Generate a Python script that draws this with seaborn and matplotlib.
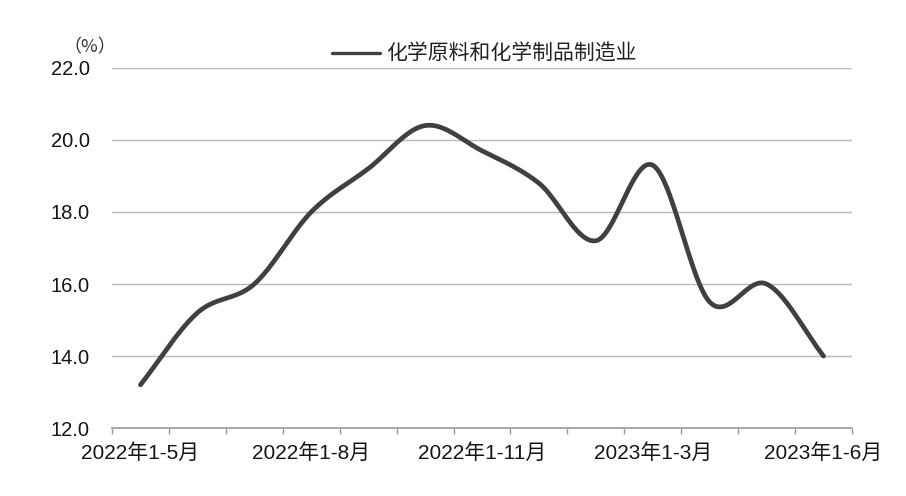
import seaborn as sns
import matplotlib.pyplot as plt
import pandas as pd
import numpy as np
from matplotlib.lines import Line2D
from matplotlib.ticker import FixedLocator

# Data (cumulative growth, %)
periods = [
    "2022年1-5月", "2022年1-6月", "2022年1-7月", "2022年1-8月",
    "2022年1-9月", "2022年1-10月", "2022年1-11月", "2022年1-12月",
    "2023年1-2月", "2023年1-3月", "2023年1-4月", "2023年1-5月",
    "2023年1-6月",
]
values = [13.2, 15.2, 16.0, 18.0, 19.2, 20.4, 19.7, 18.8, 17.2, 19.3, 15.5, 16.0, 14.0]
series_name = "化学原料和化学制品制造业"
shown_labels = ["2022年1-5月", "2022年1-8月", "2022年1-11月", "2023年1-3月", "2023年1-6月"]
y_ticks = [12.0, 14.0, 16.0, 18.0, 20.0, 22.0]


def smooth(x, y, n=24):
    # Catmull-Rom smoothing, like a spreadsheet "smoothed line"
    pts = np.column_stack([x, y]).astype(float)
    p = np.vstack([2 * pts[0] - pts[1], pts, 2 * pts[-1] - pts[-2]])
    t = np.linspace(0, 1, n, endpoint=False)[:, None]
    out = []
    for i in range(1, len(p) - 2):
        p0, p1, p2, p3 = p[i - 1], p[i], p[i + 1], p[i + 2]
        seg = 0.5 * (2 * p1 + (-p0 + p2) * t
                     + (2 * p0 - 5 * p1 + 4 * p2 - p3) * t ** 2
                     + (-p0 + 3 * p1 - 3 * p2 + p3) * t ** 3)
        out.append(seg)
    out.append(pts[-1:])
    return np.vstack(out)


sns.set_theme(style="white")
plt.rcParams["font.family"] = ["Liberation Sans", "Noto Sans CJK SC", "DejaVu Sans"]

xs = np.arange(len(periods))
curve = smooth(xs, values)
df = pd.DataFrame({"x": curve[:, 0], "y": curve[:, 1]})

fig = plt.figure(figsize=(9.06, 4.96), dpi=100)
ax = fig.add_axes([0.1236, 0.137, 0.8168, 0.726])

sns.lineplot(data=df, x="x", y="y", sort=False, estimator=None,
             color="#404040", linewidth=3.4, ax=ax, zorder=3)

ax.set_xlim(-0.5, len(periods) - 0.5)
ax.set_ylim(12, 22)
ax.set_yticks(y_ticks)
ax.set_yticklabels([f"{v:.1f}" for v in y_ticks])
pos = [periods.index(lbl) for lbl in shown_labels]
ax.set_xticks(pos)
ax.set_xticklabels(shown_labels)
ax.xaxis.set_minor_locator(FixedLocator(np.arange(-0.5, len(periods), 1.0)))
ax.set_xlabel("")
ax.set_ylabel("")

ax.grid(axis="y", color="#b8b8b8", linewidth=1.0)
ax.set_axisbelow(True)
for side in ["top", "right", "left"]:
    ax.spines[side].set_visible(False)
ax.spines["bottom"].set_color("#9a9a9a")
ax.spines["bottom"].set_linewidth(1.2)

ax.tick_params(axis="x", which="major", length=0, pad=11, labelsize=15, colors="#151515")
ax.tick_params(axis="x", which="minor", bottom=True, length=4, width=1, color="#9a9a9a")
ax.tick_params(axis="y", length=0, pad=16, labelsize=14.5, colors="#151515")

fig.text(0.099, 0.905, "（%）", ha="center", va="center", fontsize=13, color="#333333",
         family=["Noto Sans CJK SC", "DejaVu Sans"])

handle = Line2D([], [], color="#404040", linewidth=2.4)
fig.legend([handle], [series_name], loc="center", bbox_to_anchor=(0.535, 0.891),
           frameon=False, fontsize=15, handlelength=2.3, handletextpad=0.3,
           labelcolor="#222222")

fig.savefig("out.png", dpi=100, facecolor="white")
